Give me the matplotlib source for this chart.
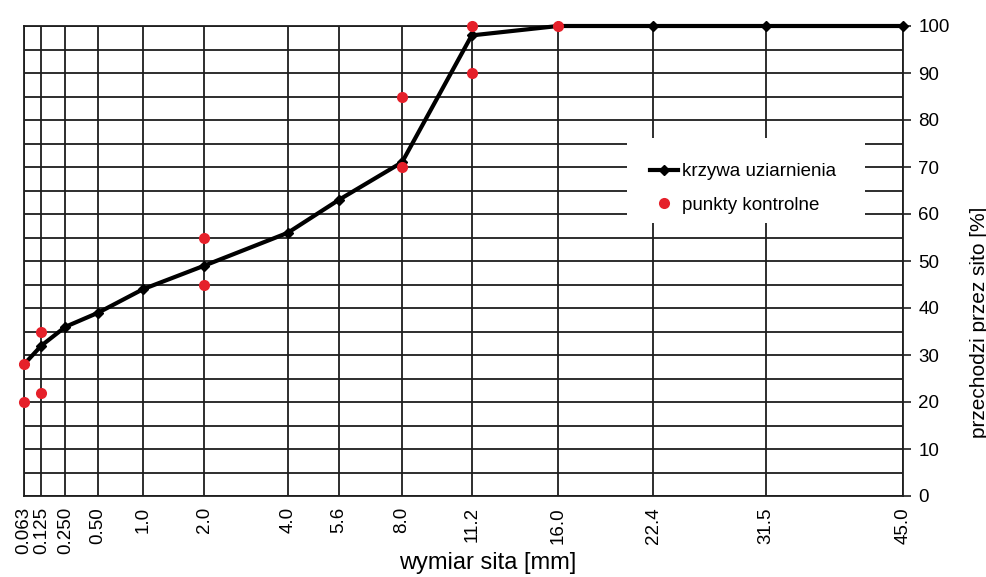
import numpy as np
import matplotlib
matplotlib.use("Agg")
import matplotlib.pyplot as plt
from matplotlib.patches import Rectangle
from matplotlib.ticker import FixedLocator, FixedFormatter, MultipleLocator

plt.rcParams['font.family'] = ['Liberation Sans', 'DejaVu Sans']

# Sieve sizes [mm] and their printed labels
sieves = [0.063, 0.125, 0.250, 0.50, 1.0, 2.0, 4.0, 5.6, 8.0, 11.2, 16.0, 22.4, 31.5, 45.0]
sieve_labels = ['0.063', '0.125', '0.250', '0.50', '1.0', '2.0', '4.0', '5.6',
                '8.0', '11.2', '16.0', '22.4', '31.5', '45.0']

# Grading curve: percent passing each sieve
passing = [28, 32, 36, 39, 44, 49, 56, 63, 71, 98, 100, 100, 100, 100]

# Control points (sieve size, percent passing)
ctrl_sizes = [0.063, 0.063, 0.125, 0.125, 2.0, 2.0, 8.0, 8.0, 11.2, 11.2, 16.0]
ctrl_passing = [28, 20, 35, 22, 55, 45, 85, 70, 100, 90, 100]

EXP = 0.45


def fwd(x):
    return np.power(np.clip(x, 1e-9, None), EXP)


def inv(y):
    return np.power(np.clip(y, 1e-9, None), 1.0 / EXP)


fig = plt.figure(figsize=(9.87, 5.77), dpi=100)
ax = fig.add_axes([24 / 987, 81 / 577, 879 / 987, 470 / 577])

ax.set_xscale('function', functions=(fwd, inv))
ax.set_xlim(0.063, 45.0)
ax.set_ylim(0, 100)

grid_kw = dict(color='#1e1e1e', linewidth=1.3)
ax.xaxis.set_major_locator(FixedLocator(sieves))
ax.xaxis.set_major_formatter(FixedFormatter(sieve_labels))
ax.xaxis.set_minor_locator(FixedLocator([]))
ax.yaxis.set_major_locator(MultipleLocator(10))
ax.yaxis.set_minor_locator(MultipleLocator(5))
ax.grid(True, which='major', axis='x', **grid_kw)
ax.grid(True, which='both', axis='y', **grid_kw)

for s in ax.spines.values():
    s.set_color('#1e1e1e')
    s.set_linewidth(1.3)

ax.yaxis.tick_right()
ax.yaxis.set_label_position('right')
ax.tick_params(axis='y', which='major', length=6, width=1.2, color='#1e1e1e',
               pad=5, labelsize=13.5, direction='out')
ax.tick_params(axis='y', which='minor', length=0)
ax.tick_params(axis='x', which='major', length=0, pad=8, labelsize=13.5,
               labelrotation=90)

# White panel behind the legend
ax.add_patch(Rectangle((0.686, 0.581), 0.271, 0.181, transform=ax.transAxes,
                       facecolor='white', edgecolor='none', zorder=2))

ax.plot(sieves, passing, color='black', linewidth=3.0, marker='D',
        markersize=5, zorder=3, clip_on=False, label='krzywa uziarnienia')
ax.plot(ctrl_sizes, ctrl_passing, linestyle='none', marker='o',
        markersize=8, color='#e5202a', markeredgewidth=0, zorder=4,
        clip_on=False, label='punkty kontrolne')

leg = ax.legend(loc='upper left', bbox_to_anchor=(0.7125, 0.708), frameon=False,
                fontsize=13.5, handlelength=1.5, handletextpad=0.2,
                labelspacing=0.86, borderpad=0, borderaxespad=0)
leg.set_zorder(5)

ax.set_xlabel('wymiar sita [mm]', fontsize=17)
ax.xaxis.set_label_coords(0.528, -0.12)
ax.set_ylabel('przechodzi przez sito [%]', fontsize=15, rotation=90)
ax.yaxis.set_label_coords(1.076, 0.37)

fig.savefig('out.png', dpi=100)
